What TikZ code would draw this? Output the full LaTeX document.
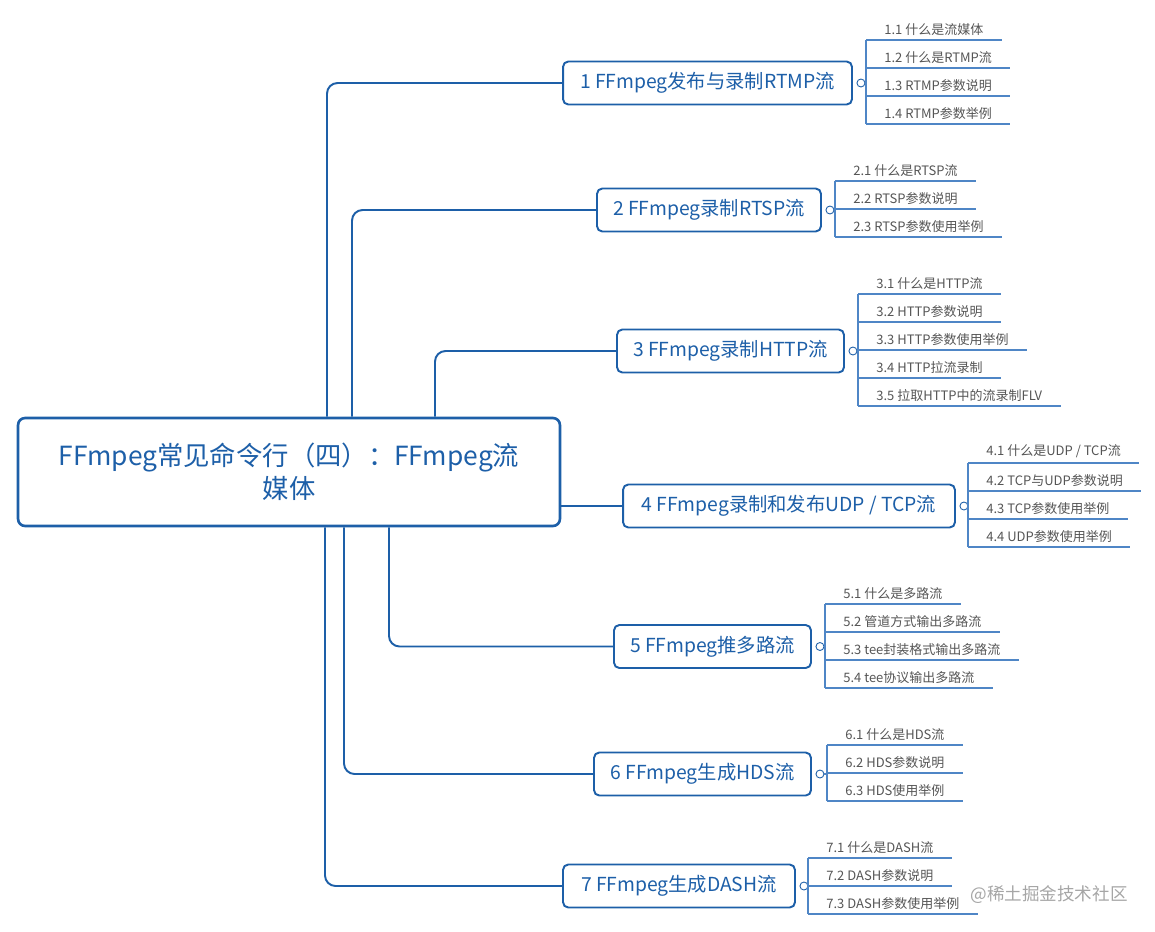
\documentclass[tikz,border=0pt]{standalone}
\usepackage{fontspec}
\newfontfamily\cjk{Noto Sans CJK SC}
\usetikzlibrary{positioning}
\definecolor{mmblue}{HTML}{1D5FA8}
\definecolor{leafline}{HTML}{4F86C6}
\definecolor{leaftext}{HTML}{555555}

\tikzset{
    root/.style={draw=mmblue, line width=1.5pt, rounded corners=4pt, text=mmblue,
        font=\cjk\fontsize{15}{19}\selectfont, align=center,
        minimum width=10.84cm, minimum height=2.16cm},
    topic/.style={draw=mmblue, line width=1.1pt, rounded corners=3pt, text=mmblue,
        font=\cjk\fontsize{11}{13}\selectfont, minimum height=0.86cm},
    knob/.style={circle, draw=mmblue, fill=white, line width=0.5pt, inner sep=0pt, minimum size=0.16cm},
    conn/.style={draw=mmblue, line width=1.1pt, rounded corners=6pt},
    leaf/.style={draw=leafline, line width=0.6pt},
    item/.style={anchor=south west, text=leaftext, font=\cjk\fontsize{7.4}{9}\selectfont,
        inner xsep=0.36cm, inner ysep=2.5pt}
}

\begin{document}
\begin{tikzpicture}[x=0.02cm, y=-0.02cm]
    \useasboundingbox (0,0) rectangle (1155,931);

    % Root topic
    \node[root] (root) at (289,472) {FFmpeg常见命令行（四）：FFmpeg流\\媒体};

    % Main topics
    \node[topic, minimum width=5.78cm] (b1) at (707.5,83) {1 FFmpeg发布与录制RTMP流};
    \node[topic, minimum width=4.48cm] (b2) at (709,210) {2 FFmpeg录制RTSP流};
    \node[topic, minimum width=4.54cm] (b3) at (730.5,351) {3 FFmpeg录制HTTP流};
    \node[topic, minimum width=6.64cm] (b4) at (789,506) {4 FFmpeg录制和发布UDP / TCP流};
    \node[topic, minimum width=3.94cm] (b5) at (712.5,646.5) {5 FFmpeg推多路流};
    \node[topic, minimum width=4.34cm] (b6) at (702.5,774) {6 FFmpeg生成HDS流};
    \node[topic, minimum width=4.64cm] (b7) at (679,886) {7 FFmpeg生成DASH流};

    % Trunks from the root
    \coordinate (t1) at (327,0);
    \coordinate (t2) at (352,0);
    \coordinate (t3) at (435,0);
    \coordinate (t5) at (389,0);
    \coordinate (t6) at (344,0);
    \coordinate (t7) at (325,0);
    \draw[conn] (root.north -| t1) |- (b1.west);
    \draw[conn] (root.north -| t2) |- (b2.west);
    \draw[conn] (root.north -| t3) |- (b3.west);
    \draw[conn] (root.east |- b4.west) -- (b4.west);
    \draw[conn] (root.south -| t5) |- (b5.west);
    \draw[conn] (root.south -| t6) |- (b6.west);
    \draw[conn] (root.south -| t7) |- (b7.west);

    % Collapse knobs
    \foreach \b in {1,...,7} {
        \node[knob] (k\b) at ([xshift=0.16cm]b\b.east) {};
    }

    % Subtopics of 1
    \foreach \t [count=\j] in {1.1 什么是流媒体, 1.2 什么是RTMP流, 1.3 RTMP参数说明, 1.4 RTMP参数举例} {
        \node[item] (s1\j) at (866,12+28*\j) {\t};
        \draw[leaf] (s1\j.south west) -- (s1\j.south east);
    }
    \draw[leaf] (k1.east) -- (k1.east -| s11.south west);
    \draw[leaf] (s11.south west) -- (s14.south west);

    % Subtopics of 2
    \foreach \t [count=\j] in {2.1 什么是RTSP流, 2.2 RTSP参数说明, 2.3 RTSP参数使用举例} {
        \node[item] (s2\j) at (835,153+28*\j) {\t};
        \draw[leaf] (s2\j.south west) -- (s2\j.south east);
    }
    \draw[leaf] (k2.east) -- (k2.east -| s21.south west);
    \draw[leaf] (s21.south west) -- (s23.south west);

    % Subtopics of 3
    \foreach \t [count=\j] in {3.1 什么是HTTP流, 3.2 HTTP参数说明, 3.3 HTTP参数使用举例, 3.4 HTTP拉流录制, 3.5 拉取HTTP中的流录制FLV} {
        \node[item] (s3\j) at (858,266+28*\j) {\t};
        \draw[leaf] (s3\j.south west) -- (s3\j.south east);
    }
    \draw[leaf] (k3.east) -- (k3.east -| s31.south west);
    \draw[leaf] (s31.south west) -- (s35.south west);

    % Subtopics of 4
    \foreach \t [count=\j] in {4.1 什么是UDP / TCP流, 4.2 TCP与UDP参数说明, 4.3 TCP参数使用举例, 4.4 UDP参数使用举例} {
        \node[item] (s4\j) at (968,435+28*\j) {\t};
        \draw[leaf] (s4\j.south west) -- (s4\j.south east);
    }
    \draw[leaf] (k4.east) -- (k4.east -| s41.south west);
    \draw[leaf] (s41.south west) -- (s44.south west);

    % Subtopics of 5
    \foreach \t [count=\j] in {5.1 什么是多路流, 5.2 管道方式输出多路流, 5.3 tee封装格式输出多路流, 5.4 tee协议输出多路流} {
        \node[item] (s5\j) at (825,576+28*\j) {\t};
        \draw[leaf] (s5\j.south west) -- (s5\j.south east);
    }
    \draw[leaf] (k5.east) -- (k5.east -| s51.south west);
    \draw[leaf] (s51.south west) -- (s54.south west);

    % Subtopics of 6
    \foreach \t [count=\j] in {6.1 什么是HDS流, 6.2 HDS参数说明, 6.3 HDS使用举例} {
        \node[item] (s6\j) at (827,717+28*\j) {\t};
        \draw[leaf] (s6\j.south west) -- (s6\j.south east);
    }
    \draw[leaf] (k6.east) -- (k6.east -| s61.south west);
    \draw[leaf] (s61.south west) -- (s63.south west);

    % Subtopics of 7
    \foreach \t [count=\j] in {7.1 什么是DASH流, 7.2 DASH参数说明, 7.3 DASH参数使用举例} {
        \node[item] (s7\j) at (808,830+28*\j) {\t};
        \draw[leaf] (s7\j.south west) -- (s7\j.south east);
    }
    \draw[leaf] (k7.east) -- (k7.east -| s71.south west);
    \draw[leaf] (s71.south west) -- (s73.south west);

    % Watermark
    \node[text=gray!70, font=\cjk\fontsize{10}{12}\selectfont] (mark) at (1049,895) {@稀土掘金技术社区};
\end{tikzpicture}
\end{document}
